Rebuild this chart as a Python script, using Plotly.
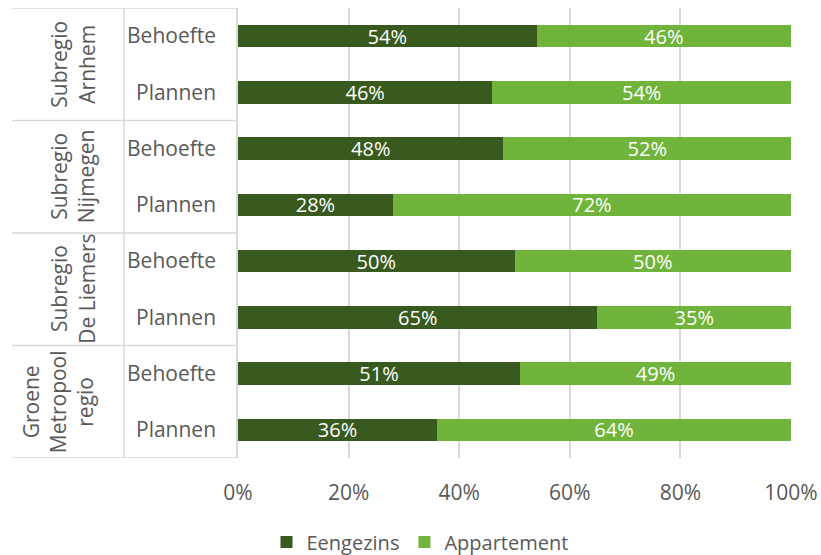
import plotly.graph_objects as go

groups = ["Subregio<br>Arnhem", "Subregio<br>Nijmegen", "Subregio<br>De Liemers", "Groene<br>Metropool<br>regio"]
subcats = ["Behoefte", "Plannen"]
eengezins = [0.54, 0.46, 0.48, 0.28, 0.50, 0.65, 0.51, 0.36]
appartement = [0.46, 0.54, 0.52, 0.72, 0.50, 0.35, 0.49, 0.64]
x_ticks = [0, 0.2, 0.4, 0.6, 0.8, 1.0]
x_ticklabels = ["0%", "20%", "40%", "60%", "80%", "100%"]

keys = [f"{g}|{s}" for g in groups for s in subcats]
labels = [s for g in groups for s in subcats]

DARK = "#385A1F"
LIGHT = "#70B43B"
GRID = "#D9D9D9"
TXT = "#595959"
FONT = "Open Sans"
FS = 21

L, R, T, B = 238, 30, 8, 97
W = 821 - L - R

fig = go.Figure()
for name, vals, col in [("Eengezins", eengezins, DARK), ("Appartement", appartement, LIGHT)]:
    fig.add_trace(go.Bar(y=keys, x=vals, orientation="h", name=name,
                         marker=dict(color=col, line=dict(width=0)), width=0.4,
                         texttemplate="%{x:.0%}", textposition="inside", insidetextanchor="middle",
                         constraintext="none",
                         textfont=dict(color="white", size=20, family=FONT)))

n = len(keys)
shapes = []
for i in range(len(groups) + 1):
    yy = i * len(subcats) - 0.5
    shapes.append(dict(type="line", xref="paper", yref="y", x0=(12 - L) / W, x1=0,
                       y0=yy, y1=yy, line=dict(color=GRID, width=1.5)))
shapes.append(dict(type="line", xref="paper", yref="y", x0=(124 - L) / W, x1=(124 - L) / W,
                   y0=-0.5, y1=n - 0.5, line=dict(color=GRID, width=1.5)))

annotations = []
for i, g in enumerate(groups):
    annotations.append(dict(text=g, xref="paper", yref="y", x=(102 - L) / W,
                            y=i * len(subcats) + (len(subcats) - 1) / 2,
                            xanchor="right", yanchor="middle", textangle=-90,
                            showarrow=False, align="center",
                            font=dict(size=FS, color=TXT, family=FONT)))

fig.update_layout(
    barmode="stack",
    width=821, height=555,
    margin=dict(l=L, r=R, t=T, b=B, autoexpand=False),
    plot_bgcolor="white", paper_bgcolor="white",
    font=dict(family=FONT, size=FS, color=TXT),
    shapes=shapes, annotations=annotations,
    legend=dict(orientation="h", xref="container", yref="container",
                x=420 / 821, y=1 - 542 / 555, xanchor="center", yanchor="middle",
                itemwidth=30,
                font=dict(size=20, color=TXT, family=FONT), traceorder="normal"),
)
fig.update_xaxes(range=[0, 1], tickvals=x_ticks, ticktext=x_ticklabels,
                 showgrid=True, gridcolor=GRID, gridwidth=1.5, zeroline=False,
                 showline=False, ticks="", ticklabelstandoff=20, automargin=False,
                 tickfont=dict(size=FS, color=TXT, family=FONT))
fig.update_yaxes(type="category", categoryarray=keys, categoryorder="array",
                 tickvals=keys, ticktext=labels, automargin=False,
                 showline=True, linecolor=GRID, linewidth=1.5, showgrid=False,
                 ticks="", ticklabelstandoff=16, range=[n - 0.5, -0.5],
                 tickfont=dict(size=FS, color=TXT, family=FONT))

fig.write_html("out.html", config={"displayModeBar": False},
               post_script="document.body.style.margin='0';")
